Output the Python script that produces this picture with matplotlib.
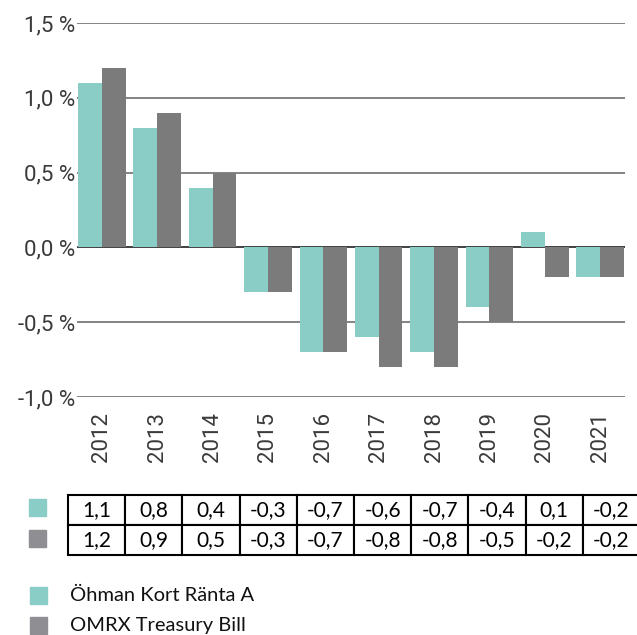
import matplotlib.pyplot as plt
import numpy as np
from matplotlib.patches import Rectangle

years = ['2012', '2013', '2014', '2015', '2016', '2017', '2018', '2019', '2020', '2021']
ohman = [1.1, 0.8, 0.4, -0.3, -0.7, -0.6, -0.7, -0.4, 0.1, -0.2]
omrx = [1.2, 0.9, 0.5, -0.3, -0.7, -0.8, -0.8, -0.5, -0.2, -0.2]
series_names = ['Öhman Kort Ränta A', 'OMRX Treasury Bill']
yticks = [-1.0, -0.5, 0.0, 0.5, 1.0, 1.5]

teal = '#8accc6'
grey = '#7b7b7b'
grey_key = '#8e8e93'

W, H = 637, 635
fig = plt.figure(figsize=(W / 100, H / 100), dpi=100)

# main bar chart
ax = fig.add_axes([77 / W, (H - 397) / H, 548 / W, 374 / H])
x = np.arange(len(years))
w = 0.43
ax.bar(x - w / 2, ohman, w, color=teal, zorder=2)
ax.bar(x + w / 2, omrx, w, color=grey, zorder=2)

ax.set_xlim(-0.45, 9.45)
ax.set_ylim(-1.0, 1.5)
for t in yticks:
    ax.axhline(t, color='#333333' if t == 0 else '#7a7a7a', lw=1.3, zorder=1)
ax.set_yticks(yticks)
ax.set_yticklabels([('%.1f %%' % t).replace('.', ',') for t in yticks])
ax.set_xticks(x)
ax.set_xticklabels(years, rotation=90)
ax.tick_params(length=0, labelsize=16, labelcolor='#3a3a3a')
ax.tick_params(axis='y', pad=1)
ax.tick_params(axis='x', pad=11)
for lab in ax.get_xticklabels() + ax.get_yticklabels():
    lab.set_fontfamily('Roboto')
    lab.set_fontweight('normal')
for s in ax.spines.values():
    s.set_visible(False)

# value table
tax = fig.add_axes([68 / W, (H - 555) / H, 572 / W, 60 / H])
tax.axis('off')
cells = [[('%.1f' % v).replace('.', ',') for v in ohman],
         [('%.1f' % v).replace('.', ',') for v in omrx]]
tbl = tax.table(cellText=cells, cellLoc='center', bbox=[0, 0, 1, 1])
tbl.auto_set_font_size(False)
for (r, c), cell in tbl.get_celld().items():
    cell.set_linewidth(1.5)
    cell.set_edgecolor('black')
    cell.get_text().set_fontsize(15)
    cell.get_text().set_fontfamily('Lato')

# colour keys beside the table rows
for yk, col in [(499, teal), (530, grey_key)]:
    fig.patches.append(Rectangle((29 / W, (H - yk - 17) / H), 17 / W, 17 / H,
                                 transform=fig.transFigure, color=col))

# legend below the table
for (yk, col), name in zip([(587, teal), (617, grey_key)], series_names):
    fig.patches.append(Rectangle((30 / W, (H - yk - 17) / H), 17 / W, 17 / H,
                                 transform=fig.transFigure, color=col))
    fig.text(70 / W, (H - yk - 8) / H, name, fontsize=14.5, family='Lato',
             va='center', ha='left', color='#111111')

fig.savefig('out.png', dpi=100)
